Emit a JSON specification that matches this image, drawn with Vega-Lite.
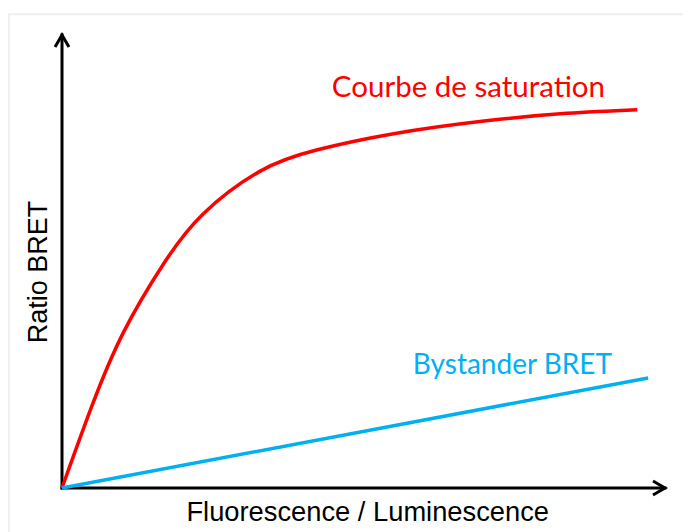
{
  "$schema": "https://vega.github.io/schema/vega-lite/v6.json",
  "autosize": "none",
  "width": 603,
  "height": 453,
  "padding": {"left": 62, "top": 35, "right": 18, "bottom": 44},
  "background": "white",
  "config": {"view": {"stroke": null}},
  "datasets": {
    "curves": [
      {"series": "saturation", "x": 0, "y": 0},
      {"series": "saturation", "x": 4.93, "y": 18.0},
      {"series": "saturation", "x": 10.17, "y": 34.3},
      {"series": "saturation", "x": 16.8, "y": 49.4},
      {"series": "saturation", "x": 23.4, "y": 60.5},
      {"series": "saturation", "x": 32.8, "y": 69.9},
      {"series": "saturation", "x": 42.2, "y": 74.6},
      {"series": "saturation", "x": 55.0, "y": 78.2},
      {"series": "saturation", "x": 70.0, "y": 81.0},
      {"series": "saturation", "x": 83.7, "y": 82.7},
      {"series": "saturation", "x": 95.4, "y": 83.5},
      {"series": "bystander", "x": 0, "y": 0},
      {"series": "bystander", "x": 97.2, "y": 24.3}
    ],
    "axes": [
      {"axis": "x", "x": 0, "x2": 100, "y": 0, "y2": 0},
      {"axis": "y", "x": 0, "x2": 0, "y": 0, "y2": 100}
    ]
  },
  "encoding": {
    "x": {"field": "x", "type": "quantitative", "scale": {"domain": [0, 100], "nice": false, "zero": false}, "axis": null},
    "y": {"field": "y", "type": "quantitative", "scale": {"domain": [0, 100], "nice": false, "zero": false}, "axis": null}
  },
  "layer": [
    {
      "data": {"values": [{"x": -8.8, "x2": 125, "y": -20, "y2": 104.6}]},
      "mark": {"type": "rect", "fill": null, "stroke": "#efefef", "strokeWidth": 2, "clip": false},
      "encoding": {"x2": {"field": "x2"}, "y2": {"field": "y2"}}
    },
    {
      "data": {"name": "axes"},
      "mark": {"type": "rule", "color": "black", "strokeWidth": 3, "strokeCap": "square"},
      "encoding": {"x2": {"field": "x2"}, "y2": {"field": "y2"}}
    },
    {
      "data": {"values": [{"x": 100, "y": 0}]},
      "mark": {"type": "point", "shape": "M -1 -0.58 L 0 0 L -1 0.58", "size": 576, "filled": false, "stroke": "black", "strokeWidth": 3, "opacity": 1}
    },
    {
      "data": {"values": [{"x": 0, "y": 100}]},
      "mark": {"type": "point", "shape": "M -0.58 1 L 0 0 L 0.58 1", "size": 576, "filled": false, "stroke": "black", "strokeWidth": 3, "opacity": 1}
    },
    {
      "data": {"name": "curves"},
      "mark": {"type": "line", "interpolate": "natural", "strokeWidth": 3.5},
      "encoding": {
        "detail": {"field": "series"},
        "color": {"field": "series", "type": "nominal", "scale": {"domain": ["saturation", "bystander"], "range": ["#ff0000", "#00b0f0"]}, "legend": null}
      }
    },
    {
      "data": {"values": [{"text": "Courbe de saturation", "x": 67.4, "y": 86.3}]},
      "mark": {"type": "text", "font": "Lato", "fontSize": 29.5, "align": "center", "baseline": "alphabetic", "color": "#ff0000"},
      "encoding": {"text": {"field": "text"}}
    },
    {
      "data": {"values": [{"text": "Bystander BRET", "x": 74.7, "y": 25.2}]},
      "mark": {"type": "text", "font": "Lato", "fontSize": 28, "align": "center", "baseline": "alphabetic", "color": "#00b0f0"},
      "encoding": {"text": {"field": "text"}}
    },
    {
      "data": {"values": [{"text": "Fluorescence / Luminescence", "x": 50.7, "y": -7.2}]},
      "mark": {"type": "text", "font": "Liberation Sans", "fontSize": 27.3, "align": "center", "baseline": "alphabetic", "color": "black"},
      "encoding": {"text": {"field": "text"}}
    },
    {
      "data": {"values": [{"text": "Ratio BRET", "x": -2.5, "y": 47.7}]},
      "mark": {"type": "text", "font": "Liberation Sans", "fontSize": 27, "angle": 270, "align": "center", "baseline": "alphabetic", "color": "black"},
      "encoding": {"text": {"field": "text"}}
    }
  ]
}
